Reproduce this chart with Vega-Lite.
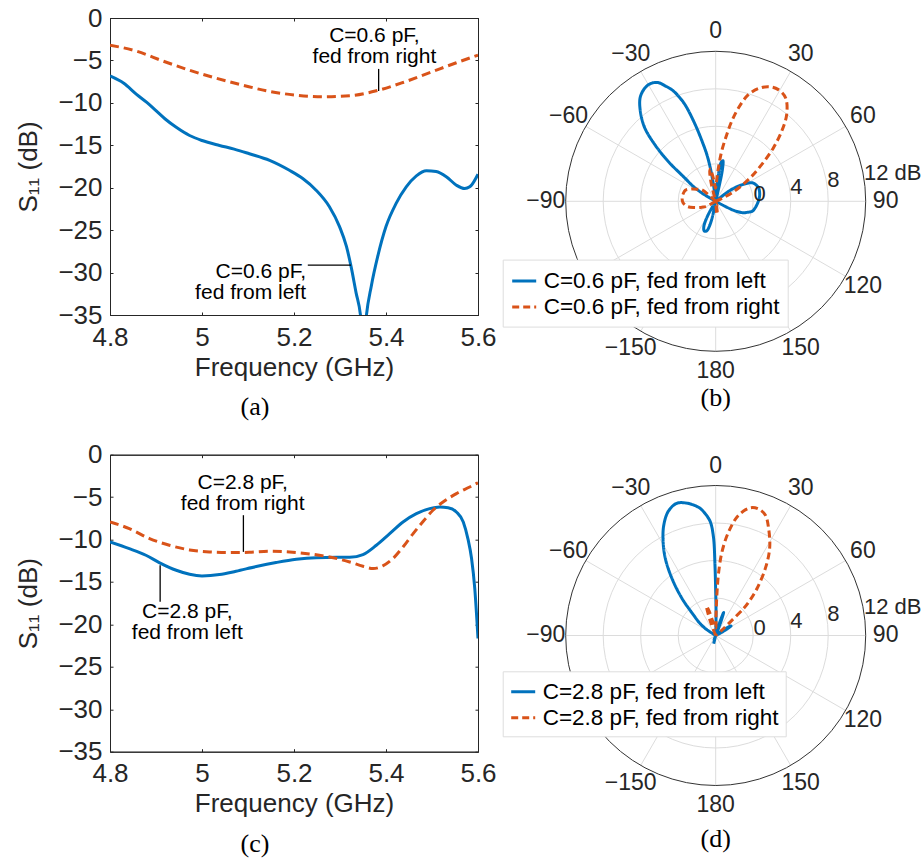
{
  "$schema": "https://vega.github.io/schema/vega-lite/v6.json",
  "padding": {"left": 15, "top": 4, "right": 0, "bottom": 0},
  "background": "white",
  "columns": 2,
  "bounds": "flush",
  "spacing": {"row": 102.7, "column": 87.7},
  "config": {
    "view": {"stroke": null},
    "font": "Liberation Sans",
    "axis": {"labelFont": "Liberation Sans", "labelFontSize": 26, "labelColor": "#262626", "labelFlush": false, "titleFont": "Liberation Sans", "titleFontSize": 26, "titleFontWeight": "normal", "titleColor": "#262626", "domainColor": "#262626", "domainWidth": 1, "tickColor": "#262626", "tickSize": -3, "tickWidth": 1, "grid": false},
    "title": {"font": "Liberation Serif", "fontSize": 26, "fontWeight": "normal", "color": "#000000"}
  },
  "resolve": {"scale": {"color": "independent", "strokeDash": "independent"}},
  "datasets": {
    "a_left": [
      {"f":4.8,"db":-6.83},{"f":4.83,"db":-7.7},{"f":4.857,"db":-8.97},{"f":4.88,"db":-9.95},{"f":4.9,"db":-10.92},{"f":4.92,"db":-11.9},{"f":4.944,"db":-12.88},{"f":4.973,"db":-13.85},{"f":5.0,"db":-14.44},{"f":5.038,"db":-15.02},{"f":5.07,"db":-15.45},{"f":5.103,"db":-16.0},{"f":5.147,"db":-16.78},{"f":5.19,"db":-17.95},{"f":5.219,"db":-18.92},{"f":5.248,"db":-20.29},{"f":5.277,"db":-22.24},{"f":5.299,"db":-24.58},{"f":5.314,"db":-26.92},{"f":5.324,"db":-29.27},{"f":5.335,"db":-32.39},{"f":5.3445,"db":-35},{"f":5.351,"db":-39},{"f":5.3575,"db":-35},{"f":5.368,"db":-31.6},{"f":5.382,"db":-28.1},{"f":5.4,"db":-24.58},{"f":5.422,"db":-21.85},{"f":5.444,"db":-19.9},{"f":5.466,"db":-18.6},{"f":5.488,"db":-18.0},{"f":5.509,"db":-18.1},{"f":5.531,"db":-18.7},{"f":5.553,"db":-19.7},{"f":5.571,"db":-20.1},{"f":5.582,"db":-19.9},{"f":5.6,"db":-18.4}
    ],
    "a_right": [
      {"f":4.8,"db":-3.2},{"f":4.857,"db":-3.9},{"f":4.915,"db":-5.07},{"f":4.973,"db":-6.16},{"f":5.031,"db":-7.1},{"f":5.089,"db":-7.92},{"f":5.147,"db":-8.66},{"f":5.205,"db":-9.09},{"f":5.263,"db":-9.28},{"f":5.321,"db":-9.17},{"f":5.379,"db":-8.58},{"f":5.437,"db":-7.6},{"f":5.495,"db":-6.44},{"f":5.553,"db":-5.27},{"f":5.6,"db":-4.37}
    ],
    "c_left": [
      {"f":4.8,"db":-10.28},{"f":4.842,"db":-11.07},{"f":4.878,"db":-11.85},{"f":4.907,"db":-12.71},{"f":4.944,"db":-13.62},{"f":4.973,"db":-14.09},{"f":5.0,"db":-14.28},{"f":5.038,"db":-14.13},{"f":5.074,"db":-13.73},{"f":5.118,"db":-13.18},{"f":5.161,"db":-12.71},{"f":5.205,"db":-12.32},{"f":5.248,"db":-12.13},{"f":5.292,"db":-12.09},{"f":5.321,"db":-12.09},{"f":5.35,"db":-11.77},{"f":5.379,"db":-10.67},{"f":5.408,"db":-9.3},{"f":5.437,"db":-7.93},{"f":5.466,"db":-6.95},{"f":5.495,"db":-6.36},{"f":5.517,"db":-6.16},{"f":5.535,"db":-6.24},{"f":5.553,"db":-6.75},{"f":5.568,"db":-7.93},{"f":5.578,"db":-9.89},{"f":5.586,"db":-12.24},{"f":5.593,"db":-15.77},{"f":5.6,"db":-21.66}
    ],
    "c_right": [
      {"f":4.8,"db":-7.93},{"f":4.842,"db":-8.71},{"f":4.886,"db":-9.89},{"f":4.929,"db":-10.67},{"f":4.973,"db":-11.22},{"f":5.016,"db":-11.46},{"f":5.06,"db":-11.54},{"f":5.103,"db":-11.5},{"f":5.147,"db":-11.38},{"f":5.19,"db":-11.46},{"f":5.234,"db":-11.69},{"f":5.277,"db":-12.05},{"f":5.321,"db":-12.64},{"f":5.35,"db":-13.15},{"f":5.372,"db":-13.42},{"f":5.393,"db":-13.1},{"f":5.415,"db":-12.24},{"f":5.437,"db":-10.87},{"f":5.459,"db":-9.3},{"f":5.481,"db":-7.85},{"f":5.502,"db":-6.55},{"f":5.524,"db":-5.57},{"f":5.553,"db":-4.59},{"f":5.582,"db":-3.81},{"f":5.6,"db":-3.3}
    ],
    "b_pat": [
      {"s":"C=0.6 pF, fed from left","a":-180,"g":-4},{"s":"C=0.6 pF, fed from left","a":-170,"g":-4},{"s":"C=0.6 pF, fed from left","a":-167,"g":-1.7},{"s":"C=0.6 pF, fed from left","a":-163,"g":-0.7},{"s":"C=0.6 pF, fed from left","a":-159,"g":-0.6},{"s":"C=0.6 pF, fed from left","a":-155,"g":-1.0},{"s":"C=0.6 pF, fed from left","a":-151,"g":-2.2},{"s":"C=0.6 pF, fed from left","a":-147,"g":-4},{"s":"C=0.6 pF, fed from left","a":-62,"g":-4},{"s":"C=0.6 pF, fed from left","a":-59,"g":-2.3},{"s":"C=0.6 pF, fed from left","a":-56,"g":-1.0},{"s":"C=0.6 pF, fed from left","a":-53,"g":0.1},{"s":"C=0.6 pF, fed from left","a":-50,"g":2.6},{"s":"C=0.6 pF, fed from left","a":-47,"g":4.9},{"s":"C=0.6 pF, fed from left","a":-44,"g":6.9},{"s":"C=0.6 pF, fed from left","a":-40,"g":8.5},{"s":"C=0.6 pF, fed from left","a":-36,"g":9.7},{"s":"C=0.6 pF, fed from left","a":-32,"g":10.25},{"s":"C=0.6 pF, fed from left","a":-29,"g":10.35},{"s":"C=0.6 pF, fed from left","a":-26,"g":10.1},{"s":"C=0.6 pF, fed from left","a":-23.5,"g":9.4},{"s":"C=0.6 pF, fed from left","a":-21.5,"g":8.8},{"s":"C=0.6 pF, fed from left","a":-19.5,"g":7.9},{"s":"C=0.6 pF, fed from left","a":-17.6,"g":6.8},{"s":"C=0.6 pF, fed from left","a":-15,"g":4.5},{"s":"C=0.6 pF, fed from left","a":-12.3,"g":2.2},{"s":"C=0.6 pF, fed from left","a":-10.5,"g":0.9},{"s":"C=0.6 pF, fed from left","a":-9,"g":-0.6},{"s":"C=0.6 pF, fed from left","a":-7.5,"g":-2.5},{"s":"C=0.6 pF, fed from left","a":-6,"g":-4},{"s":"C=0.6 pF, fed from left","a":4,"g":-4},{"s":"C=0.6 pF, fed from left","a":6,"g":-1},{"s":"C=0.6 pF, fed from left","a":8,"g":0.2},{"s":"C=0.6 pF, fed from left","a":10,"g":0.4},{"s":"C=0.6 pF, fed from left","a":12,"g":-0.6},{"s":"C=0.6 pF, fed from left","a":14,"g":-4},{"s":"C=0.6 pF, fed from left","a":48,"g":-4},{"s":"C=0.6 pF, fed from left","a":52,"g":-2.4},{"s":"C=0.6 pF, fed from left","a":55,"g":-1.4},{"s":"C=0.6 pF, fed from left","a":58,"g":-0.65},{"s":"C=0.6 pF, fed from left","a":63,"g":0.37},{"s":"C=0.6 pF, fed from left","a":68,"g":0.65},{"s":"C=0.6 pF, fed from left","a":73,"g":0.8},{"s":"C=0.6 pF, fed from left","a":81,"g":0.75},{"s":"C=0.6 pF, fed from left","a":88,"g":0.6},{"s":"C=0.6 pF, fed from left","a":95,"g":0.4},{"s":"C=0.6 pF, fed from left","a":100,"g":0.25},{"s":"C=0.6 pF, fed from left","a":105,"g":0.05},{"s":"C=0.6 pF, fed from left","a":109,"g":-0.4},{"s":"C=0.6 pF, fed from left","a":113,"g":-0.9},{"s":"C=0.6 pF, fed from left","a":117,"g":-2},{"s":"C=0.6 pF, fed from left","a":121,"g":-4},{"s":"C=0.6 pF, fed from left","a":180,"g":-4},
      {"s":"C=0.6 pF, fed from right","a":-180,"g":-4},{"s":"C=0.6 pF, fed from right","a":-125,"g":-4},{"s":"C=0.6 pF, fed from right","a":-118,"g":-2.8},{"s":"C=0.6 pF, fed from right","a":-113,"g":-2.4},{"s":"C=0.6 pF, fed from right","a":-106,"g":-1.6},{"s":"C=0.6 pF, fed from right","a":-100,"g":-0.9},{"s":"C=0.6 pF, fed from right","a":-92,"g":-0.5},{"s":"C=0.6 pF, fed from right","a":-84,"g":-0.4},{"s":"C=0.6 pF, fed from right","a":-76,"g":-0.45},{"s":"C=0.6 pF, fed from right","a":-70,"g":-0.55},{"s":"C=0.6 pF, fed from right","a":-63,"g":-1.1},{"s":"C=0.6 pF, fed from right","a":-56,"g":-1.7},{"s":"C=0.6 pF, fed from right","a":-50,"g":-2.1},{"s":"C=0.6 pF, fed from right","a":-45,"g":-4},{"s":"C=0.6 pF, fed from right","a":-18,"g":-4},{"s":"C=0.6 pF, fed from right","a":-14,"g":-2.0},{"s":"C=0.6 pF, fed from right","a":-11,"g":-0.7},{"s":"C=0.6 pF, fed from right","a":-9,"g":-0.5},{"s":"C=0.6 pF, fed from right","a":-7,"g":-1.2},{"s":"C=0.6 pF, fed from right","a":-4,"g":-2.0},{"s":"C=0.6 pF, fed from right","a":-1,"g":-2.6},{"s":"C=0.6 pF, fed from right","a":2,"g":-2.0},{"s":"C=0.6 pF, fed from right","a":4.6,"g":-0.43},{"s":"C=0.6 pF, fed from right","a":6.8,"g":1.37},{"s":"C=0.6 pF, fed from right","a":9.4,"g":3.2},{"s":"C=0.6 pF, fed from right","a":11.3,"g":4.7},{"s":"C=0.6 pF, fed from right","a":13.7,"g":6.24},{"s":"C=0.6 pF, fed from right","a":17,"g":7.9},{"s":"C=0.6 pF, fed from right","a":20.7,"g":8.85},{"s":"C=0.6 pF, fed from right","a":24.7,"g":9.46},{"s":"C=0.6 pF, fed from right","a":29.3,"g":9.66},{"s":"C=0.6 pF, fed from right","a":34.1,"g":9.31},{"s":"C=0.6 pF, fed from right","a":39.3,"g":7.95},{"s":"C=0.6 pF, fed from right","a":43.3,"g":6.26},{"s":"C=0.6 pF, fed from right","a":47.2,"g":4.38},{"s":"C=0.6 pF, fed from right","a":51.4,"g":2.27},{"s":"C=0.6 pF, fed from right","a":56.4,"g":0.18},{"s":"C=0.6 pF, fed from right","a":62.5,"g":-2.08},{"s":"C=0.6 pF, fed from right","a":66,"g":-4},{"s":"C=0.6 pF, fed from right","a":168,"g":-4},{"s":"C=0.6 pF, fed from right","a":172,"g":-2.8},{"s":"C=0.6 pF, fed from right","a":175,"g":-2.6},{"s":"C=0.6 pF, fed from right","a":178,"g":-4},{"s":"C=0.6 pF, fed from right","a":180,"g":-4}
    ],
    "d_pat": [
      {"s":"C=2.8 pF, fed from left","a":-180,"g":-4},{"s":"C=2.8 pF, fed from left","a":-170,"g":-4},{"s":"C=2.8 pF, fed from left","a":-166,"g":-3.1},{"s":"C=2.8 pF, fed from left","a":-162,"g":-4},{"s":"C=2.8 pF, fed from left","a":-60,"g":-4},{"s":"C=2.8 pF, fed from left","a":-56,"g":-2.67},{"s":"C=2.8 pF, fed from left","a":-52,"g":-1.8},{"s":"C=2.8 pF, fed from left","a":-47.3,"g":-0.8},{"s":"C=2.8 pF, fed from left","a":-42.3,"g":1.34},{"s":"C=2.8 pF, fed from left","a":-37.5,"g":3.66},{"s":"C=2.8 pF, fed from left","a":-33.2,"g":5.81},{"s":"C=2.8 pF, fed from left","a":-29.3,"g":7.46},{"s":"C=2.8 pF, fed from left","a":-25.2,"g":9.01},{"s":"C=2.8 pF, fed from left","a":-20.8,"g":10.2},{"s":"C=2.8 pF, fed from left","a":-16.4,"g":10.7},{"s":"C=2.8 pF, fed from left","a":-12.3,"g":10.45},{"s":"C=2.8 pF, fed from left","a":-9.5,"g":10.1},{"s":"C=2.8 pF, fed from left","a":-6.9,"g":9.65},{"s":"C=2.8 pF, fed from left","a":-4.5,"g":8.9},{"s":"C=2.8 pF, fed from left","a":-2.7,"g":8.14},{"s":"C=2.8 pF, fed from left","a":-1.3,"g":6.5},{"s":"C=2.8 pF, fed from left","a":-0.6,"g":3.5},{"s":"C=2.8 pF, fed from left","a":-0.1,"g":1.0},{"s":"C=2.8 pF, fed from left","a":1,"g":-1.8},{"s":"C=2.8 pF, fed from left","a":3,"g":-4},{"s":"C=2.8 pF, fed from left","a":15,"g":-4},{"s":"C=2.8 pF, fed from left","a":17,"g":-2.6},{"s":"C=2.8 pF, fed from left","a":19,"g":-1.4},{"s":"C=2.8 pF, fed from left","a":21,"g":-2.6},{"s":"C=2.8 pF, fed from left","a":24,"g":-4},{"s":"C=2.8 pF, fed from left","a":52,"g":-4},{"s":"C=2.8 pF, fed from left","a":55,"g":-2.6},{"s":"C=2.8 pF, fed from left","a":58,"g":-2.07},{"s":"C=2.8 pF, fed from left","a":61,"g":-2.8},{"s":"C=2.8 pF, fed from left","a":64,"g":-4},{"s":"C=2.8 pF, fed from left","a":180,"g":-4},
      {"s":"C=2.8 pF, fed from right","a":-180,"g":-4},{"s":"C=2.8 pF, fed from right","a":-25,"g":-4},{"s":"C=2.8 pF, fed from right","a":-21,"g":-2.5},{"s":"C=2.8 pF, fed from right","a":-17.5,"g":-0.7},{"s":"C=2.8 pF, fed from right","a":-15,"g":-1.3},{"s":"C=2.8 pF, fed from right","a":-12,"g":-2.4},{"s":"C=2.8 pF, fed from right","a":-8,"g":-2.9},{"s":"C=2.8 pF, fed from right","a":-4,"g":-3.2},{"s":"C=2.8 pF, fed from right","a":0,"g":-3.2},{"s":"C=2.8 pF, fed from right","a":0.8,"g":-2},{"s":"C=2.8 pF, fed from right","a":1.4,"g":-0.5},{"s":"C=2.8 pF, fed from right","a":1.9,"g":1.0},{"s":"C=2.8 pF, fed from right","a":2.7,"g":2.8},{"s":"C=2.8 pF, fed from right","a":4.3,"g":4.95},{"s":"C=2.8 pF, fed from right","a":7.1,"g":7.14},{"s":"C=2.8 pF, fed from right","a":10.8,"g":9.07},{"s":"C=2.8 pF, fed from right","a":15.2,"g":10.11},{"s":"C=2.8 pF, fed from right","a":18.8,"g":10.24},{"s":"C=2.8 pF, fed from right","a":22.4,"g":9.89},{"s":"C=2.8 pF, fed from right","a":26.3,"g":8.74},{"s":"C=2.8 pF, fed from right","a":31.8,"g":6.92},{"s":"C=2.8 pF, fed from right","a":36.5,"g":4.9},{"s":"C=2.8 pF, fed from right","a":41.3,"g":2.68},{"s":"C=2.8 pF, fed from right","a":44.5,"g":1.1},{"s":"C=2.8 pF, fed from right","a":46,"g":0.15},{"s":"C=2.8 pF, fed from right","a":47,"g":-1.86},{"s":"C=2.8 pF, fed from right","a":49,"g":-3.2},{"s":"C=2.8 pF, fed from right","a":52,"g":-4},{"s":"C=2.8 pF, fed from right","a":180,"g":-4}
    ],
    "rings": [{"g":0},{"g":4},{"g":8}],
    "outer": [{"g":12}],
    "spokes": [{"a":0},{"a":30},{"a":60},{"a":90},{"a":120},{"a":150}],
    "anglab": [{"a":0,"t":"0"},{"a":30,"t":"30"},{"a":60,"t":"60"},{"a":90,"t":"90"},{"a":120,"t":"120"},{"a":150,"t":"150"},{"a":180,"t":"180"},{"a":-150,"t":"−150"},{"a":-90,"t":"−90"},{"a":-60,"t":"−60"},{"a":-30,"t":"−30"}],
    "rlab": [{"g":0,"t":"0"},{"g":4,"t":"4"},{"g":8,"t":"8"},{"g":12,"t":"12 dB"}]
  },
  "concat": [
    {
      "width": 368, "height": 297,
      "view": {"stroke": "#262626", "strokeWidth": 1},
      "title": {"text": "(a)", "orient": "bottom", "frame": "group", "dx": -39, "offset": 14},
      "resolve": {"axis": {"x": "independent", "y": "independent"}},
      "layer": [
        {
          "data": {"name": "a_left"},
          "mark": {"type": "line", "color": "#0072BD", "strokeWidth": 3, "clip": true, "interpolate": "monotone"},
          "encoding": {
            "x": {"field": "f", "type": "quantitative", "scale": {"domain": [4.8, 5.6], "nice": false, "zero": false}, "axis": {"values": [4.8, 5, 5.2, 5.4, 5.6], "format": "~g", "title": "Frequency (GHz)", "labelPadding": 12, "titlePadding": 4}},
            "y": {"field": "db", "type": "quantitative", "scale": {"domain": [-35, 0], "nice": false, "zero": false}, "axis": {"values": [0, -5, -10, -15, -20, -25, -30, -35], "format": "~g", "title": "S₁₁ (dB)", "labelPadding": 11, "titlePadding": 16}}
          }
        },
        {
          "data": {"name": "a_right"},
          "mark": {"type": "line", "color": "#D95319", "strokeWidth": 3, "strokeDash": [9, 5], "clip": true, "interpolate": "monotone"},
          "encoding": {
            "x": {"field": "f", "type": "quantitative", "scale": {"domain": [4.8, 5.6], "nice": false, "zero": false}, "axis": null},
            "y": {"field": "db", "type": "quantitative", "scale": {"domain": [-35, 0], "nice": false, "zero": false}, "axis": null}
          }
        },
        {
          "data": {"values": [{"f": 5.384, "y1": -6.0, "f2": 5.384, "y2": -8.6}, {"f": 5.23, "y1": -29.12, "f2": 5.324, "y2": -29.12}]},
          "mark": {"type": "rule", "color": "#000000", "strokeWidth": 1.3},
          "encoding": {
            "x": {"field": "f", "type": "quantitative", "scale": {"domain": [4.8, 5.6], "nice": false, "zero": false}, "axis": null},
            "y": {"field": "y1", "type": "quantitative", "scale": {"domain": [-35, 0], "nice": false, "zero": false}, "axis": null},
            "x2": {"field": "f2"},
            "y2": {"field": "y2"}
          }
        },
        {
          "data": {"values": [{"f": 5.3748, "db": -2.1, "t": "C=0.6 pF,"}, {"f": 5.3748, "db": -4.57, "t": "fed from right"}]},
          "mark": {"type": "text", "align": "center", "baseline": "middle", "fontSize": 21, "font": "Liberation Sans", "color": "#000000"},
          "encoding": {
            "x": {"field": "f", "type": "quantitative", "scale": {"domain": [4.8, 5.6], "nice": false, "zero": false}, "axis": null},
            "y": {"field": "db", "type": "quantitative", "scale": {"domain": [-35, 0], "nice": false, "zero": false}, "axis": null},
            "text": {"field": "t"}
          }
        },
        {
          "data": {"values": [{"f": 5.2261, "db": -29.9, "t": "C=0.6 pF,"}, {"f": 5.2261, "db": -32.4, "t": "fed from left"}]},
          "mark": {"type": "text", "align": "right", "baseline": "middle", "fontSize": 21, "font": "Liberation Sans", "color": "#000000"},
          "encoding": {
            "x": {"field": "f", "type": "quantitative", "scale": {"domain": [4.8, 5.6], "nice": false, "zero": false}, "axis": null},
            "y": {"field": "db", "type": "quantitative", "scale": {"domain": [-35, 0], "nice": false, "zero": false}, "axis": null},
            "text": {"field": "t"}
          }
        },
        {
          "data": {"name": "a_right"},
          "mark": {"type": "point", "opacity": 0},
          "encoding": {
            "x": {"field": "f", "type": "quantitative", "scale": {"domain": [4.8, 5.6], "nice": false, "zero": false}, "axis": {"orient": "top", "labels": false, "title": null, "values": [4.8, 5, 5.2, 5.4, 5.6]}},
            "y": {"field": "db", "type": "quantitative", "scale": {"domain": [-35, 0], "nice": false, "zero": false}, "axis": {"orient": "right", "labels": false, "title": null, "values": [0, -5, -10, -15, -20, -25, -30, -35]}}
          }
        }
      ]
    },
    {
      "width": 300, "height": 333.3,
      "title": {"text": "(b)", "orient": "bottom", "frame": "group", "offset": 2},
      "layer": [
        {
          "data": {"name": "rings"},
          "transform": [{"calculate": "datum.g + 4", "as": "r"}],
          "mark": {"type": "point", "shape": "circle", "filled": false, "color": "#dcdcdc", "strokeWidth": 1, "opacity": 1},
          "encoding": {
            "x": {"datum": 0, "type": "quantitative", "scale": {"domain": [-16, 16], "nice": false, "zero": false}, "axis": null},
            "y": {"datum": 0, "type": "quantitative", "scale": {"domain": [-16, 19.552], "nice": false, "zero": false}, "axis": null},
            "size": {"field": "r", "type": "quantitative", "scale": {"type": "pow", "exponent": 2, "domain": [0, 16], "range": [0, 90000]}, "legend": null}
          }
        },
        {
          "data": {"name": "spokes"},
          "transform": [
            {"calculate": "16*sin(datum.a*PI/180)", "as": "px2"},
            {"calculate": "16*cos(datum.a*PI/180)", "as": "py2"},
            {"calculate": "-datum.px2", "as": "px1"},
            {"calculate": "-datum.py2", "as": "py1"}
          ],
          "mark": {"type": "rule", "color": "#dcdcdc", "strokeWidth": 1},
          "encoding": {
            "x": {"field": "px1", "type": "quantitative", "scale": {"domain": [-16, 16], "nice": false, "zero": false}, "axis": null},
            "y": {"field": "py1", "type": "quantitative", "scale": {"domain": [-16, 19.552], "nice": false, "zero": false}, "axis": null},
            "x2": {"field": "px2"},
            "y2": {"field": "py2"}
          }
        },
        {
          "data": {"name": "outer"},
          "transform": [{"calculate": "datum.g + 4", "as": "r"}],
          "mark": {"type": "point", "shape": "circle", "filled": false, "color": "#333333", "strokeWidth": 1, "opacity": 1},
          "encoding": {
            "x": {"datum": 0, "type": "quantitative", "scale": {"domain": [-16, 16], "nice": false, "zero": false}, "axis": null},
            "y": {"datum": 0, "type": "quantitative", "scale": {"domain": [-16, 19.552], "nice": false, "zero": false}, "axis": null},
            "size": {"field": "r", "type": "quantitative", "scale": {"type": "pow", "exponent": 2, "domain": [0, 16], "range": [0, 90000]}, "legend": null}
          }
        },
        {
          "data": {"name": "b_pat"},
          "transform": [
            {"calculate": "max(datum.g + 4, 0)", "as": "r"},
            {"calculate": "datum.r*sin(datum.a*PI/180)", "as": "px"},
            {"calculate": "datum.r*cos(datum.a*PI/180)", "as": "py"}
          ],
          "mark": {"type": "line", "strokeWidth": 3, "interpolate": "catmull-rom"},
          "encoding": {
            "x": {"field": "px", "type": "quantitative", "scale": {"domain": [-16, 16], "nice": false, "zero": false}, "axis": null},
            "y": {"field": "py", "type": "quantitative", "scale": {"domain": [-16, 19.552], "nice": false, "zero": false}, "axis": null},
            "order": {"field": "a", "type": "quantitative"},
            "color": {"field": "s", "type": "nominal", "scale": {"domain": ["C=0.6 pF, fed from left", "C=0.6 pF, fed from right"], "range": ["#0072BD", "#D95319"]},
              "legend": {"orient": "none", "legendX": -63, "legendY": 241.6, "title": null, "symbolType": "stroke", "symbolSize": 576, "symbolStrokeWidth": 3, "labelFontSize": 22.5, "labelFont": "Liberation Sans", "labelColor": "#000000", "fillColor": "white", "strokeColor": "#dddddd", "padding": 8, "rowPadding": 1, "labelOffset": 6, "labelLimit": 400}},
            "strokeDash": {"field": "s", "type": "nominal", "scale": {"domain": ["C=0.6 pF, fed from left", "C=0.6 pF, fed from right"], "range": [[1, 0], [7, 4]]},
              "legend": {"orient": "none", "legendX": -63, "legendY": 241.6, "title": null, "symbolType": "stroke", "symbolSize": 576, "symbolStrokeWidth": 3, "labelFontSize": 22.5, "labelFont": "Liberation Sans", "labelColor": "#000000", "fillColor": "white", "strokeColor": "#dddddd", "padding": 8, "rowPadding": 1, "labelOffset": 6, "labelLimit": 400}}
          }
        },
        {
          "data": {"name": "anglab"},
          "transform": [
            {"calculate": "18.13*sin(datum.a*PI/180)", "as": "px"},
            {"calculate": "18.13*cos(datum.a*PI/180)", "as": "py"}
          ],
          "mark": {"type": "text", "align": "center", "baseline": "middle", "fontSize": 23, "font": "Liberation Sans", "color": "#262626"},
          "encoding": {
            "x": {"field": "px", "type": "quantitative", "scale": {"domain": [-16, 16], "nice": false, "zero": false}, "axis": null},
            "y": {"field": "py", "type": "quantitative", "scale": {"domain": [-16, 19.552], "nice": false, "zero": false}, "axis": null},
            "text": {"field": "t"}
          }
        },
        {
          "data": {"name": "rlab"},
          "transform": [
            {"calculate": "(datum.g + 4)*sin(79*PI/180)", "as": "px"},
            {"calculate": "(datum.g + 4)*cos(79*PI/180)", "as": "py"}
          ],
          "mark": {"type": "text", "align": "left", "baseline": "middle", "dx": 1, "fontSize": 22, "font": "Liberation Sans", "color": "#262626"},
          "encoding": {
            "x": {"field": "px", "type": "quantitative", "scale": {"domain": [-16, 16], "nice": false, "zero": false}, "axis": null},
            "y": {"field": "py", "type": "quantitative", "scale": {"domain": [-16, 19.552], "nice": false, "zero": false}, "axis": null},
            "text": {"field": "t"}
          }
        }
      ]
    },
    {
      "width": 368, "height": 297,
      "view": {"stroke": "#262626", "strokeWidth": 1},
      "title": {"text": "(c)", "orient": "bottom", "frame": "group", "dx": -39, "offset": 14},
      "resolve": {"axis": {"x": "independent", "y": "independent"}},
      "layer": [
        {
          "data": {"name": "c_left"},
          "mark": {"type": "line", "color": "#0072BD", "strokeWidth": 3, "clip": true, "interpolate": "monotone"},
          "encoding": {
            "x": {"field": "f", "type": "quantitative", "scale": {"domain": [4.8, 5.6], "nice": false, "zero": false}, "axis": {"values": [4.8, 5, 5.2, 5.4, 5.6], "format": "~g", "title": "Frequency (GHz)", "labelPadding": 12, "titlePadding": 4}},
            "y": {"field": "db", "type": "quantitative", "scale": {"domain": [-35, 0], "nice": false, "zero": false}, "axis": {"values": [0, -5, -10, -15, -20, -25, -30, -35], "format": "~g", "title": "S₁₁ (dB)", "labelPadding": 11, "titlePadding": 16}}
          }
        },
        {
          "data": {"name": "c_right"},
          "mark": {"type": "line", "color": "#D95319", "strokeWidth": 3, "strokeDash": [9, 5], "clip": true, "interpolate": "monotone"},
          "encoding": {
            "x": {"field": "f", "type": "quantitative", "scale": {"domain": [4.8, 5.6], "nice": false, "zero": false}, "axis": null},
            "y": {"field": "db", "type": "quantitative", "scale": {"domain": [-35, 0], "nice": false, "zero": false}, "axis": null}
          }
        },
        {
          "data": {"values": [{"f": 5.09, "y1": -7.13, "f2": 5.09, "y2": -11.45}, {"f": 4.909, "y1": -13.02, "f2": 4.909, "y2": -17.34}]},
          "mark": {"type": "rule", "color": "#000000", "strokeWidth": 1.3},
          "encoding": {
            "x": {"field": "f", "type": "quantitative", "scale": {"domain": [4.8, 5.6], "nice": false, "zero": false}, "axis": null},
            "y": {"field": "y1", "type": "quantitative", "scale": {"domain": [-35, 0], "nice": false, "zero": false}, "axis": null},
            "x2": {"field": "f2"},
            "y2": {"field": "y2"}
          }
        },
        {
          "data": {"values": [{"f": 5.0885, "db": -3.3, "t": "C=2.8 pF,"}, {"f": 5.0885, "db": -5.77, "t": "fed from right"}, {"f": 4.968, "db": -18.59, "t": "C=2.8 pF,"}, {"f": 4.968, "db": -21.06, "t": "fed from left"}]},
          "mark": {"type": "text", "align": "center", "baseline": "middle", "fontSize": 21, "font": "Liberation Sans", "color": "#000000"},
          "encoding": {
            "x": {"field": "f", "type": "quantitative", "scale": {"domain": [4.8, 5.6], "nice": false, "zero": false}, "axis": null},
            "y": {"field": "db", "type": "quantitative", "scale": {"domain": [-35, 0], "nice": false, "zero": false}, "axis": null},
            "text": {"field": "t"}
          }
        },
        {
          "data": {"name": "c_right"},
          "mark": {"type": "point", "opacity": 0},
          "encoding": {
            "x": {"field": "f", "type": "quantitative", "scale": {"domain": [4.8, 5.6], "nice": false, "zero": false}, "axis": {"orient": "top", "labels": false, "title": null, "values": [4.8, 5, 5.2, 5.4, 5.6]}},
            "y": {"field": "db", "type": "quantitative", "scale": {"domain": [-35, 0], "nice": false, "zero": false}, "axis": {"orient": "right", "labels": false, "title": null, "values": [0, -5, -10, -15, -20, -25, -30, -35]}}
          }
        }
      ]
    },
    {
      "width": 300, "height": 330.8,
      "title": {"text": "(d)", "orient": "bottom", "frame": "group", "offset": 9},
      "layer": [
        {
          "data": {"name": "rings"},
          "transform": [{"calculate": "datum.g + 4", "as": "r"}],
          "mark": {"type": "point", "shape": "circle", "filled": false, "color": "#dcdcdc", "strokeWidth": 1, "opacity": 1},
          "encoding": {
            "x": {"datum": 0, "type": "quantitative", "scale": {"domain": [-16, 16], "nice": false, "zero": false}, "axis": null},
            "y": {"datum": 0, "type": "quantitative", "scale": {"domain": [-16, 19.285], "nice": false, "zero": false}, "axis": null},
            "size": {"field": "r", "type": "quantitative", "scale": {"type": "pow", "exponent": 2, "domain": [0, 16], "range": [0, 90000]}, "legend": null}
          }
        },
        {
          "data": {"name": "spokes"},
          "transform": [
            {"calculate": "16*sin(datum.a*PI/180)", "as": "px2"},
            {"calculate": "16*cos(datum.a*PI/180)", "as": "py2"},
            {"calculate": "-datum.px2", "as": "px1"},
            {"calculate": "-datum.py2", "as": "py1"}
          ],
          "mark": {"type": "rule", "color": "#dcdcdc", "strokeWidth": 1},
          "encoding": {
            "x": {"field": "px1", "type": "quantitative", "scale": {"domain": [-16, 16], "nice": false, "zero": false}, "axis": null},
            "y": {"field": "py1", "type": "quantitative", "scale": {"domain": [-16, 19.285], "nice": false, "zero": false}, "axis": null},
            "x2": {"field": "px2"},
            "y2": {"field": "py2"}
          }
        },
        {
          "data": {"name": "outer"},
          "transform": [{"calculate": "datum.g + 4", "as": "r"}],
          "mark": {"type": "point", "shape": "circle", "filled": false, "color": "#333333", "strokeWidth": 1, "opacity": 1},
          "encoding": {
            "x": {"datum": 0, "type": "quantitative", "scale": {"domain": [-16, 16], "nice": false, "zero": false}, "axis": null},
            "y": {"datum": 0, "type": "quantitative", "scale": {"domain": [-16, 19.285], "nice": false, "zero": false}, "axis": null},
            "size": {"field": "r", "type": "quantitative", "scale": {"type": "pow", "exponent": 2, "domain": [0, 16], "range": [0, 90000]}, "legend": null}
          }
        },
        {
          "data": {"name": "d_pat"},
          "transform": [
            {"calculate": "max(datum.g + 4, 0)", "as": "r"},
            {"calculate": "datum.r*sin(datum.a*PI/180)", "as": "px"},
            {"calculate": "datum.r*cos(datum.a*PI/180)", "as": "py"}
          ],
          "mark": {"type": "line", "strokeWidth": 3, "interpolate": "catmull-rom"},
          "encoding": {
            "x": {"field": "px", "type": "quantitative", "scale": {"domain": [-16, 16], "nice": false, "zero": false}, "axis": null},
            "y": {"field": "py", "type": "quantitative", "scale": {"domain": [-16, 19.285], "nice": false, "zero": false}, "axis": null},
            "order": {"field": "a", "type": "quantitative"},
            "color": {"field": "s", "type": "nominal", "scale": {"domain": ["C=2.8 pF, fed from left", "C=2.8 pF, fed from right"], "range": ["#0072BD", "#D95319"]},
              "legend": {"orient": "none", "legendX": -63, "legendY": 216.6, "title": null, "symbolType": "stroke", "symbolSize": 576, "symbolStrokeWidth": 3, "labelFontSize": 22.5, "labelFont": "Liberation Sans", "labelColor": "#000000", "fillColor": "white", "strokeColor": "#dddddd", "padding": 7, "rowPadding": 1, "labelOffset": 6, "labelLimit": 400}},
            "strokeDash": {"field": "s", "type": "nominal", "scale": {"domain": ["C=2.8 pF, fed from left", "C=2.8 pF, fed from right"], "range": [[1, 0], [7, 4]]},
              "legend": {"orient": "none", "legendX": -63, "legendY": 216.6, "title": null, "symbolType": "stroke", "symbolSize": 576, "symbolStrokeWidth": 3, "labelFontSize": 22.5, "labelFont": "Liberation Sans", "labelColor": "#000000", "fillColor": "white", "strokeColor": "#dddddd", "padding": 7, "rowPadding": 1, "labelOffset": 6, "labelLimit": 400}}
          }
        },
        {
          "data": {"name": "anglab"},
          "transform": [
            {"calculate": "18.13*sin(datum.a*PI/180)", "as": "px"},
            {"calculate": "18.13*cos(datum.a*PI/180)", "as": "py"}
          ],
          "mark": {"type": "text", "align": "center", "baseline": "middle", "fontSize": 23, "font": "Liberation Sans", "color": "#262626"},
          "encoding": {
            "x": {"field": "px", "type": "quantitative", "scale": {"domain": [-16, 16], "nice": false, "zero": false}, "axis": null},
            "y": {"field": "py", "type": "quantitative", "scale": {"domain": [-16, 19.285], "nice": false, "zero": false}, "axis": null},
            "text": {"field": "t"}
          }
        },
        {
          "data": {"name": "rlab"},
          "transform": [
            {"calculate": "(datum.g + 4)*sin(79*PI/180)", "as": "px"},
            {"calculate": "(datum.g + 4)*cos(79*PI/180)", "as": "py"}
          ],
          "mark": {"type": "text", "align": "left", "baseline": "middle", "dx": 1, "fontSize": 22, "font": "Liberation Sans", "color": "#262626"},
          "encoding": {
            "x": {"field": "px", "type": "quantitative", "scale": {"domain": [-16, 16], "nice": false, "zero": false}, "axis": null},
            "y": {"field": "py", "type": "quantitative", "scale": {"domain": [-16, 19.285], "nice": false, "zero": false}, "axis": null},
            "text": {"field": "t"}
          }
        }
      ]
    }
  ]
}
